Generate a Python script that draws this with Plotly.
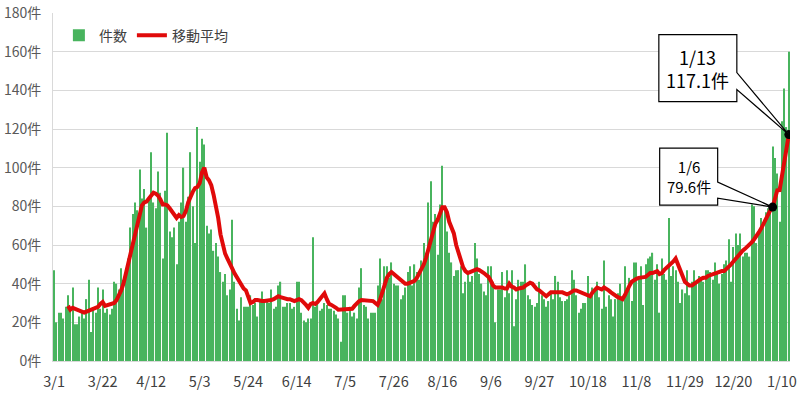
import pandas as pd
import plotly.graph_objects as go

# ---------------- data ----------------
start_date = "2020-03-01"

# daily counts (件数), 2020-03-01 .. 2021-01-13
counts = [
    # Mar
    47, 20, 25, 25, 22, 28, 34, 27, 38, 19, 19, 23, 25, 22, 32, 42, 15, 27, 25, 38,
    27, 37, 25, 27, 24, 27, 41, 40, 37, 48, 42,
    # Apr
    48, 53, 69, 76, 82, 78, 99, 84, 89, 69, 85, 108, 82, 79, 98, 87, 53, 88, 118, 67,
    64, 69, 50, 72, 82, 100, 72, 85, 108, 80,
    # May
    61, 121, 103, 115, 112, 70, 66, 68, 57, 61, 54, 46, 41, 45, 34, 37, 73, 41, 27, 21,
    33, 28, 28, 28, 34, 29, 30, 23, 32, 36, 30,
    # Jun
    31, 30, 37, 27, 28, 39, 41, 28, 28, 30, 30, 27, 28, 41, 41, 25, 21, 20, 22, 22,
    64, 28, 30, 26, 27, 30, 29, 27, 27, 26,
    # Jul
    24, 22, 10, 34, 34, 25, 28, 23, 25, 22, 38, 48, 29, 28, 22, 25, 25, 25, 39, 53,
    32, 49, 49, 43, 51, 40, 39, 39, 32, 34, 38,
    # Aug
    46, 49, 39, 50, 46, 42, 52, 61, 56, 82, 93, 72, 76, 55, 81, 101, 80, 67, 56, 51,
    44, 47, 47, 49, 35, 41, 46, 41, 44, 61, 53,
    # Sep
    45, 40, 36, 34, 49, 49, 41, 20, 37, 37, 46, 33, 47, 35, 47, 18, 32, 42, 41, 41,
    50, 34, 32, 29, 28, 30, 41, 34, 32, 28,
    # Oct
    31, 36, 32, 44, 41, 33, 31, 31, 32, 34, 47, 42, 34, 25, 27, 30, 30, 44, 33, 38,
    37, 41, 33, 27, 52, 28, 34, 32, 23, 32, 35,
    # Nov
    40, 32, 49, 35, 43, 31, 51, 51, 44, 49, 29, 50, 53, 54, 56, 42, 50, 25, 53, 45,
    42, 74, 44, 49, 47, 41, 30, 37, 35, 47,
    # Dec
    34, 41, 47, 41, 44, 42, 41, 47, 47, 46, 42, 51, 46, 40, 45, 50, 52, 63, 41, 59,
    66, 60, 66, 54, 56, 56, 54, 81, 80, 61, 67,
    # Jan
    74, 71, 77, 79, 78, 111, 105, 97, 72, 124, 141, 121, 160,
]

# 移動平均 (red line), 2020-03-07 .. 2021-01-13
moving_avg = [
    # Mar 7-31
    28.5, 26.5, 27.5, 27.0, 26.5, 26.0, 25.5, 25.0, 25.5, 26.0, 26.0, 26.5, 27.5, 28.0,
    29.5, 30.5, 28.5, 29.0, 29.0, 29.5, 30.0, 31.5, 33.5, 36.5, 40.0,
    # Apr
    45.0, 50.0, 55.5, 61.0, 66.5, 71.5, 77.0, 80.5, 82.0, 82.5, 84.0, 86.0, 87.0, 86.5,
    85.5, 83.5, 81.0, 81.0, 80.5, 79.0, 77.0, 75.0, 74.0, 75.5, 74.5, 75.0, 77.5, 82.0,
    85.5, 87.5,
    # May
    89.5, 90.0, 92.0, 97.5, 100.0, 95.0, 93.5, 91.0, 86.0, 81.0, 74.0, 65.5, 59.5, 55.5,
    53.0, 50.0, 48.0, 45.5, 43.5, 40.5, 38.5, 37.5, 36.5, 33.0, 30.0, 30.5, 31.5, 31.5,
    31.0, 31.0, 31.0,
    # Jun
    31.0, 31.0, 31.5, 32.0, 33.0, 33.5, 33.0, 32.5, 32.0, 32.0, 32.0, 31.5, 31.0, 31.5,
    32.0, 31.5, 30.5, 29.0, 27.5, 29.5, 30.0, 29.5, 30.5, 32.0, 33.5, 35.0, 32.0, 29.5,
    29.0, 28.5,
    # Jul
    27.5, 26.5, 26.5, 26.5, 26.5, 26.5, 27.0, 27.0, 28.5, 30.0, 31.0, 31.5, 31.5, 31.0,
    31.0, 31.0, 31.0, 30.0, 29.0, 31.5, 36.0, 40.0, 43.0, 45.0, 46.0, 45.0, 44.0, 43.0,
    42.0, 40.5, 40.0,
    # Aug
    40.0, 40.5, 40.5, 41.5, 43.0, 45.0, 47.5, 50.0, 53.5, 58.0, 63.0, 68.5, 71.0, 73.0,
    76.0, 79.5, 79.5, 77.0, 72.0, 68.5, 66.0, 60.0, 56.0, 52.5, 48.5, 46.5, 45.5, 46.0,
    46.5, 47.0, 47.5,
    # Sep
    47.0, 46.5, 45.5, 44.5, 43.5, 41.5, 39.0, 38.0, 38.0, 38.5, 38.0, 37.5, 37.5, 40.0,
    38.5, 38.0, 37.0, 37.5, 37.5, 38.0, 39.0, 39.5, 40.5, 40.0, 38.0, 37.0, 36.5, 35.5,
    34.0, 33.5,
    # Oct
    34.5, 35.5, 35.5, 35.5, 36.0, 35.5, 35.5, 35.0, 34.5, 35.0, 36.0, 36.5, 36.5, 36.0,
    35.5, 35.5, 35.0, 34.5, 33.5, 35.5, 37.0, 38.0, 37.5, 37.0, 38.0, 37.5, 36.5, 35.5,
    34.5, 33.5, 33.0,
    # Nov
    32.5, 32.0, 34.0, 37.0, 39.0, 41.0, 42.0, 42.5, 43.0, 43.0, 43.0, 43.5, 44.5, 45.5,
    45.5, 46.0, 46.5, 45.0, 45.5, 47.0, 48.0, 49.0, 50.0, 51.5, 53.0, 50.0, 46.0, 44.0,
    41.0, 40.0,
    # Dec
    39.0, 39.0, 40.0, 41.0, 42.0, 42.5, 43.0, 43.0, 44.0, 44.5, 45.0, 45.5, 46.0, 46.0,
    46.5, 46.5, 47.5, 48.5, 50.0, 51.5, 53.0, 54.5, 56.0, 57.0, 58.0, 59.0, 60.0, 61.5,
    63.0, 64.5, 66.5,
    # Jan
    68.5, 71.0, 73.5, 76.0, 78.0, 79.6, 85.0, 88.3, 88.4, 95.1, 104.0, 110.1, 117.1,
]

tick_labels = ["3/1", "3/22", "4/12", "5/3", "5/24", "6/14", "7/5", "7/26",
               "8/16", "9/6", "9/27", "10/18", "11/8", "11/29", "12/20", "1/10"]

callout_dates = ["2021-01-06", "2021-01-13"]

# ---------------- build ----------------
dates = pd.date_range(start_date, periods=len(counts), freq="D")
ma_dates = dates[len(dates) - len(moving_avg):]
ma_series = pd.Series(moving_avg, index=ma_dates)
tick_dates = pd.date_range(start_date, periods=len(tick_labels), freq="21D")

callout_vals = [float(ma_series[pd.Timestamp(d)]) for d in callout_dates]

fig = go.Figure()
fig.add_trace(go.Bar(
    x=dates, y=counts, name="件数",
    marker=dict(color="#48B45E", line=dict(width=0)),
))
fig.add_trace(go.Scatter(
    x=ma_dates, y=moving_avg, name="移動平均", mode="lines",
    line=dict(color="#E00A0A", width=4),
))
fig.add_trace(go.Scatter(
    x=callout_dates, y=callout_vals, mode="markers", showlegend=False,
    marker=dict(color="black", size=9),
))

# callout boxes (pixel geometry relative to the data point)
callout_style = {
    "2021-01-06": dict(path="M-113,59 L-55,59 L-55,25 L0,0 L-55,9 L-55,2 L-113,2 Z",
                       tx=-84, ty=30.5, size=15),
    "2021-01-13": dict(path="M-130,100 L-52,100 L-52,62 L0,0 L-52,45 L-52,33 L-130,33 Z",
                       tx=-91, ty=66.5, size=18),
}
for d, v in zip(callout_dates, callout_vals):
    st = callout_style[d]
    ts = pd.Timestamp(d)
    fig.add_shape(
        type="path", path=st["path"],
        xref="x", yref="y", xsizemode="pixel", ysizemode="pixel",
        xanchor=d, yanchor=v,
        fillcolor="white", line=dict(color="black", width=1.2), layer="above",
    )
    fig.add_annotation(
        x=d, y=v, xref="x", yref="y", xshift=st["tx"], yshift=st["ty"],
        text=f"{ts.month}/{ts.day}<br>{v:.1f}件", showarrow=False,
        font=dict(size=st["size"], color="black"), align="center",
    )

half_day = pd.Timedelta(hours=12)
fig.update_layout(
    width=800, height=396,
    margin=dict(l=53, r=10, t=13, b=35, autoexpand=False),
    paper_bgcolor="white", plot_bgcolor="white",
    font=dict(family="Noto Sans CJK JP, Noto Sans, sans-serif", size=14, color="#595959"),
    bargap=0.5,
    showlegend=True,
    legend=dict(orientation="h", x=0.008, y=0.935, xanchor="left", yanchor="middle",
                bgcolor="rgba(0,0,0,0)", font=dict(size=14, color="#404040"),
                traceorder="normal", itemwidth=30),
    xaxis=dict(
        type="date", range=[dates[0] - half_day, dates[-1] + half_day],
        tickvals=tick_dates, ticktext=tick_labels, automargin=False,
        showgrid=False, showline=True, linecolor="#d9d9d9", ticks="",
        tickfont=dict(size=14.5, color="#404040"), ticklabelstandoff=8,
    ),
    yaxis=dict(
        range=[0, 180], dtick=20, ticksuffix="件", automargin=False,
        showgrid=True, gridcolor="#d9d9d9", gridwidth=1,
        showline=True, linecolor="#d9d9d9", zeroline=False, ticks="",
        tickfont=dict(size=14, color="#595959"), ticklabelstandoff=8,
    ),
)

fig.write_html(
    "out.html",
    config={"displayModeBar": False},
    post_script="document.body.style.margin='0';document.body.style.overflow='hidden';",
)
